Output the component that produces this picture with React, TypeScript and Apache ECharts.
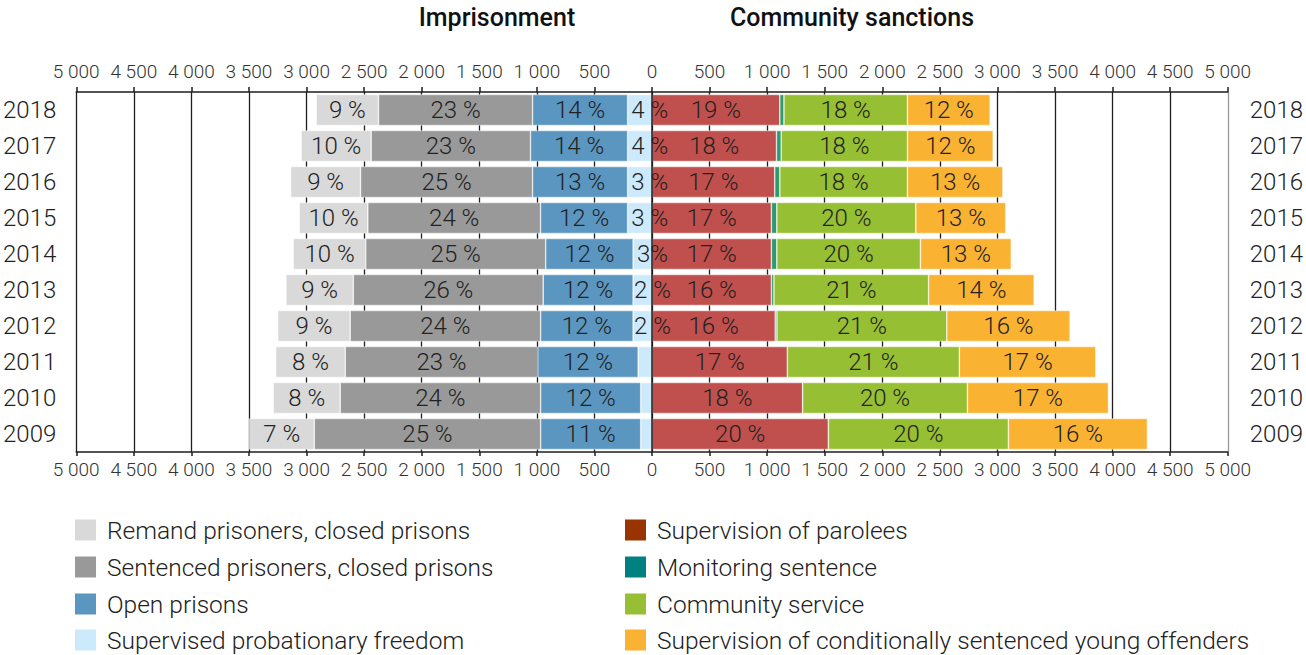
import React, { useEffect, useRef } from "react";
import * as echarts from "echarts";

const years = ["2009", "2010", "2011", "2012", "2013", "2014", "2015", "2016", "2017", "2018"];

// Imprisonment (drawn to the left)
const remand = [566, 581, 604, 629, 585, 629, 595, 607, 607, 541];
const sentenced = [1966, 1741, 1672, 1654, 1649, 1563, 1500, 1494, 1384, 1338];
const openPrisons = [869, 869, 872, 803, 781, 759, 756, 825, 843, 825];
const probation = [98, 98, 120, 164, 164, 164, 212, 212, 212, 212];

// Community sanctions (drawn to the right)
const parolees = [1532, 1308, 1176, 1070, 1037, 1037, 1037, 1066, 1081, 1110];
const monitoring = [0, 0, 0, 15, 22, 47, 47, 44, 41, 36];
const communityService = [1563, 1431, 1493, 1475, 1343, 1247, 1207, 1108, 1097, 1072];
const youngOffenders = [1207, 1225, 1185, 1071, 917, 789, 781, 829, 744, 718];

// Share labels as printed
const remandLbl = ["7 %", "8 %", "8 %", "9 %", "9 %", "10 %", "10 %", "9 %", "10 %", "9 %"];
const sentencedLbl = ["25 %", "24 %", "23 %", "24 %", "26 %", "25 %", "24 %", "25 %", "23 %", "23 %"];
const openLbl = ["11 %", "12 %", "12 %", "12 %", "12 %", "12 %", "12 %", "13 %", "14 %", "14 %"];
const probationLbl = ["", "", "", "2 %", "2 %", "3%", "3 %", "3 %", "4 %", "4 %"];
const parolesLbl = ["20 %", "18 %", "17 %", "16 %", "16 %", "17 %", "17 %", "17 %", "18 %", "19 %"];
const monitoringLbl = ["", "", "", "", "", "", "", "", "", ""];
const communityLbl = ["20 %", "20 %", "21 %", "21 %", "21 %", "20 %", "20 %", "18 %", "18 %", "18 %"];
const youngLbl = ["16 %", "17 %", "17 %", "16 %", "14 %", "13 %", "13 %", "13 %", "12 %", "12 %"];

const names = {
  remand: "Remand prisoners, closed prisons",
  sentenced: "Sentenced prisoners, closed prisons",
  open: "Open prisons",
  probation: "Supervised probationary freedom",
  parolees: "Supervision of parolees",
  monitoring: "Monitoring sentence",
  community: "Community service",
  young: "Supervision of conditionally sentenced young offenders",
};

// Legend columns (as in the original key)
const legendLeft = [names.remand, names.sentenced, names.open, names.probation];
const legendLeftColors = ["#d9d9d9", "#999999", "#5b96c0", "#cceafb"];
const legendRight = [names.parolees, names.monitoring, names.community, names.young];
const legendRightColors = ["#993300", "#008080", "#96bf33", "#fab233"];

const FONT = "Roboto";

function fmtTick(v: number) {
  const a = Math.abs(v);
  if (a >= 1000) {
    const th = Math.floor(a / 1000);
    const rest = String(a % 1000).padStart(3, "0");
    return th + " " + rest;
  }
  return String(a);
}

export default function App() {
  const ref = useRef<HTMLDivElement>(null);
  useEffect(() => {
    document.body.style.margin = "0";
    const chart = echarts.init(ref.current!, null, { renderer: "svg" });

    const labelStyle = {
      show: true,
      position: "inside",
      fontFamily: FONT,
      fontWeight: 300,
      fontSize: 24,
      color: "#222",
    };

    const mk = (name: string, data: number[], color: string, lbls: string[], sign: number, extra: any = {}) => ({
      name,
      type: "bar",
      stack: "all",
      barWidth: 31,
      data: data.map((v) => v * sign),
      itemStyle: { color, borderColor: "rgba(255,255,255,0.8)", borderWidth: 0.6 },
      label: { ...labelStyle, formatter: (p: any) => lbls[p.dataIndex] },
      ...extra,
    });

    const splitColors = Array.from({ length: 21 }, (_, i) => (i === 20 ? "#9a9a9a" : "#1e1e1e"));

    const rowY = [530, 567, 604, 640];
    const legendGraphics: any[] = [];
    const addCol = (items: string[], colors: string[], x0: number) => {
      items.forEach((nm, i) => {
        legendGraphics.push({
          type: "rect",
          shape: { x: x0, y: rowY[i] - 10.5, width: 21, height: 21 },
          style: { fill: colors[i] },
        });
        legendGraphics.push({
          type: "text",
          x: x0 + 32,
          y: rowY[i],
          style: {
            text: nm,
            fontFamily: FONT,
            fontWeight: 300,
            fontSize: 24.5,
            fill: "#222",
            textAlign: "left",
            textVerticalAlign: "middle",
          },
        });
      });
    };
    addCol(legendLeft, legendLeftColors, 75);
    addCol(legendRight, legendRightColors, 625);

    chart.setOption({
      animation: false,
      grid: { left: 73, right: 72, top: 92, bottom: 203, containLabel: false },
      xAxis: [
        {
          type: "value",
          position: "top",
          min: -5000,
          max: 5000,
          interval: 500,
          axisLine: { show: true, lineStyle: { color: "#1e1e1e", width: 1.5 } },
          axisTick: { show: true, length: 5, lineStyle: { color: "#1e1e1e", width: 1.5 } },
          splitLine: { show: true, lineStyle: { color: splitColors, width: 1.3 } },
          axisLabel: {
            formatter: fmtTick,
            fontFamily: FONT,
            fontWeight: 300,
            fontSize: 19,
            color: "#333",
            margin: 11,
          },
        },
        {
          type: "value",
          position: "bottom",
          min: -5000,
          max: 5000,
          interval: 500,
          axisLine: { show: true, lineStyle: { color: "#1e1e1e", width: 1.5 } },
          axisTick: { show: true, length: 4, lineStyle: { color: "#1e1e1e", width: 1.5 } },
          splitLine: { show: false },
          axisLabel: {
            formatter: fmtTick,
            fontFamily: FONT,
            fontWeight: 300,
            fontSize: 19,
            color: "#333",
            margin: 8,
          },
        },
      ],
      yAxis: [
        {
          type: "category",
          position: "left",
          data: years,
          axisLine: { show: false },
          axisTick: { show: false },
          axisLabel: { fontFamily: FONT, fontWeight: 300, fontSize: 24, color: "#222", margin: 20 },
        },
        {
          type: "category",
          position: "right",
          data: years,
          axisLine: { show: false },
          axisTick: { show: false },
          axisLabel: { fontFamily: FONT, fontWeight: 300, fontSize: 24, color: "#222", margin: 22 },
        },
      ],
      graphic: [
        {
          type: "text",
          x: 497,
          y: 17,
          style: {
            text: "Imprisonment",
            fontFamily: FONT,
            fontWeight: 500,
            fontSize: 25,
            fill: "#111",
            textAlign: "center",
            textVerticalAlign: "middle",
          },
        },
        {
          type: "text",
          x: 852,
          y: 17,
          style: {
            text: "Community sanctions",
            fontFamily: FONT,
            fontWeight: 500,
            fontSize: 25,
            fill: "#111",
            textAlign: "center",
            textVerticalAlign: "middle",
          },
        },
        ...legendGraphics,
      ],
      series: [
        mk(names.probation, probation, "#cceafb", probationLbl, -1, {
          label: { ...labelStyle, offset: [10, 0], formatter: (p: any) => probationLbl[p.dataIndex] },
          markLine: {
            silent: true,
            symbol: "none",
            label: { show: false },
            lineStyle: { color: "#1e1e1e", width: 1.5, type: "solid" },
            data: [{ xAxis: 0 }],
          },
        }),
        mk(names.open, openPrisons, "#5b96c0", openLbl, -1),
        mk(names.sentenced, sentenced, "#999999", sentencedLbl, -1),
        mk(names.remand, remand, "#d9d9d9", remandLbl, -1),
        mk(names.parolees, parolees, "#c0504d", parolesLbl, 1),
        mk(names.monitoring, monitoring, "#2e9b6f", monitoringLbl, 1),
        mk(names.community, communityService, "#96bf33", communityLbl, 1),
        mk(names.young, youngOffenders, "#fab233", youngLbl, 1),
      ],
    });
    return () => chart.dispose();
  }, []);
  return <div ref={ref} style={{ width: 1306, height: 655 }} />;
}
